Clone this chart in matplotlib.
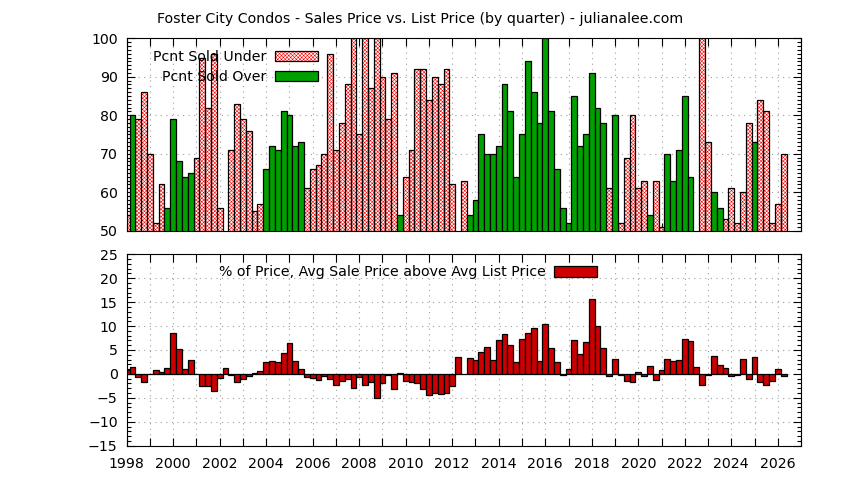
import numpy as np
import matplotlib
matplotlib.use("Agg")
import matplotlib.pyplot as plt
from matplotlib.patches import Patch
from matplotlib.ticker import MultipleLocator, FuncFormatter

plt.rcParams["font.family"] = "DejaVu Sans"
plt.rcParams["hatch.linewidth"] = 0.4

TITLE = "Foster City Condos - Sales Price vs. List Price (by quarter) - julianalee.com"

# one bar per quarter, 1998 Q1 .. 2026 Q2
quarter_x = np.arange(1998, 2026.5, 0.25)

# percent of sales under list (red hatched), 0 where the "over" share is the larger one
pcnt_under = [
    54, 0, 79, 86, 70, 52, 62, 0, 0, 0, 0, 0, 69, 95, 82, 96,
    56, 0, 71, 83, 79, 76, 55, 57, 0, 0, 0, 0, 0, 0, 0, 61,
    66, 67, 70, 96, 71, 78, 88, 100, 75, 100, 87, 100, 90, 79, 91, 0,
    64, 71, 92, 92, 84, 90, 88, 92, 62, 0, 63, 0, 0, 0, 0, 0,
    0, 0, 0, 0, 0, 0, 0, 0, 0, 0, 0, 0, 0, 0, 0, 0,
    0, 0, 0, 61, 0, 52, 69, 80, 61, 63, 0, 63, 51, 0, 0, 0,
    0, 0, 0, 100, 73, 0, 0, 53, 61, 52, 60, 78, 0, 84, 81, 52,
    57, 70,
]

# percent of sales over list (green)
pcnt_over = [
    0, 80, 0, 0, 0, 0, 0, 56, 79, 68, 64, 65, 0, 0, 0, 0,
    0, 0, 0, 0, 0, 0, 0, 0, 66, 72, 71, 81, 80, 72, 73, 0,
    0, 0, 0, 0, 0, 0, 0, 0, 0, 0, 0, 0, 0, 0, 0, 54,
    0, 0, 0, 0, 0, 0, 0, 0, 0, 0, 0, 54, 58, 75, 70, 70,
    72, 88, 81, 64, 75, 94, 86, 78, 100, 81, 66, 56, 52, 85, 72, 75,
    91, 82, 78, 0, 80, 0, 0, 0, 0, 0, 54, 0, 0, 70, 63, 71,
    85, 64, 0, 0, 0, 60, 56, 0, 0, 0, 0, 0, 73, 0, 0, 0,
    0, 0,
]

# avg sale price above avg list price, % of price
pct_above_list = [
    0.9, 1.5, -0.6, -1.7, 0.0, 0.8, 0.4, 1.3, 8.6, 5.2, 1.0, 2.9, 0.0, -2.5, -2.5, -3.5,
    -0.8, 1.3, -0.2, -1.6, -1.0, -0.4, 0.2, 0.6, 2.5, 2.7, 2.5, 4.3, 6.4, 2.7, 1.0, -0.6,
    -0.8, -1.3, -0.4, -1.0, -2.3, -1.5, -1.0, -3.0, -0.6, -2.3, -1.7, -5.0, -1.9, -0.3, -3.1, 0.2,
    -1.5, -1.7, -1.9, -3.1, -4.4, -4.0, -4.2, -4.0, -2.6, 3.6, 0.0, 3.3, 2.9, 4.6, 5.6, 2.9,
    7.1, 8.4, 6.1, 2.5, 7.3, 8.6, 9.6, 2.7, 10.5, 5.4, 2.5, -0.2, 1.0, 7.1, 4.2, 6.7,
    15.7, 10.0, 5.4, -0.4, 3.1, -0.2, -1.5, -1.7, 0.4, -0.4, 1.7, -1.3, 0.8, 3.1, 2.7, 2.9,
    7.3, 6.9, 1.5, -2.3, -0.2, 3.8, 1.9, 1.3, -0.4, -0.2, 3.1, -1.0, 3.6, -1.7, -2.3, -1.5,
    1.0, -0.4,
]

RED = "#ff0000"
GREEN = "#00a000"
DARKRED = "#cc0000"
HATCH = "x" * 9
FS = 10.2
W = 0.25

fig = plt.figure(figsize=(8.44, 4.8), dpi=100)
ax1 = fig.add_axes([0.1501, 0.5196, 0.7990, 0.4006])
ax2 = fig.add_axes([0.1501, 0.0715, 0.7990, 0.3987])

# top panel
ax1.bar(quarter_x, pcnt_under, width=W, color="white", edgecolor=RED, hatch=HATCH, linewidth=0)
ax1.bar(quarter_x, pcnt_under, width=W, fill=False, edgecolor="black", linewidth=0.9)
ax1.bar(quarter_x, pcnt_over, width=W, color=GREEN, edgecolor="black", linewidth=0.9)
ax1.set_ylim(50, 100)
ax1.yaxis.set_major_locator(MultipleLocator(10))
ax1.yaxis.set_minor_locator(MultipleLocator(1))

under_handle = (Patch(facecolor="white", edgecolor=RED, hatch=HATCH, linewidth=0),
                Patch(fill=False, edgecolor="black", linewidth=0.9))
over_handle = Patch(facecolor=GREEN, edgecolor="black", linewidth=0.9)
ax1.legend([under_handle, over_handle], ["Pcnt Sold Under", "Pcnt Sold Over"],
           loc="upper right", bbox_to_anchor=(0.284, 0.94), frameon=False,
           markerfirst=False, fontsize=FS, handlelength=3.05, handleheight=0.72,
           handletextpad=0.6, labelspacing=0.4, borderaxespad=0, borderpad=0)

# bottom panel
ax2.bar(quarter_x, pct_above_list, width=W, color=DARKRED, edgecolor="black", linewidth=0.9,
        label="% of Price, Avg Sale Price above Avg List Price")
ax2.set_ylim(-15, 25)
ax2.yaxis.set_major_locator(MultipleLocator(5))
ax2.yaxis.set_minor_locator(MultipleLocator(1))
ax2.legend(loc="upper right", bbox_to_anchor=(0.698, 0.942), frameon=False,
           markerfirst=False, fontsize=FS, handlelength=3.05, handleheight=0.72,
           handletextpad=0.6, borderaxespad=0, borderpad=0)

for ax in (ax1, ax2):
    ax.set_xlim(1998, 2027)
    ax.xaxis.set_major_locator(MultipleLocator(1))
    ax.set_axisbelow(True)
    ax.grid(True, which="major", color="#a0a0a0", linestyle=(0, (1, 4)), linewidth=0.8)
    ax.tick_params(which="both", direction="in", top=True, right=True, width=0.8,
                   labelsize=FS, pad=6.5)
    ax.tick_params(which="major", length=6)
    ax.tick_params(which="minor", length=3)
    for s in ax.spines.values():
        s.set_linewidth(0.8)

ax1.tick_params(axis="x", labelbottom=False)
ax2.xaxis.set_major_formatter(FuncFormatter(lambda v, p: f"{int(v)}" if int(v) % 2 == 0 else ""))
ax2.tick_params(axis="x", pad=8.5)

fig.text(0.498, 0.96, TITLE, ha="center", va="center", fontsize=FS)

fig.savefig("out.png", dpi=100)
